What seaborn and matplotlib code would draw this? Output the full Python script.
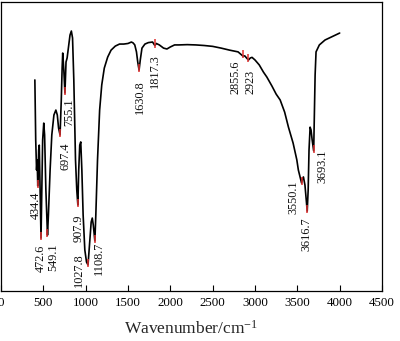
import numpy as np
import pandas as pd
import matplotlib
matplotlib.use("Agg")
import matplotlib.pyplot as plt
import seaborn as sns

# FTIR spectrum: wavenumber (cm^-1) and transmittance (a.u.)
wavenumber = [
    400, 410, 420, 427, 434.4, 445, 452, 462, 472.6, 480, 492, 505, 515, 530,
    549.1, 560, 580, 600, 625, 648, 665, 680, 697.4, 712, 722, 729, 742, 755.1,
    768, 781, 800, 815, 831, 845, 860, 870, 880, 895, 907.9, 918, 930, 942, 955,
    970, 990, 1010, 1027.8, 1045, 1065, 1078, 1090, 1108.7, 1120, 1140, 1165,
    1190, 1220, 1260, 1300, 1350, 1400, 1450, 1500, 1540, 1560, 1580, 1600,
    1615, 1630.8, 1645, 1665, 1700, 1740, 1790, 1817.3, 1835, 1870, 1920, 1960,
    2000, 2050, 2100, 2200, 2300, 2400, 2500, 2600, 2700, 2800, 2855.6, 2880,
    2900, 2923, 2945, 2965, 3000, 3050, 3100, 3140, 3200, 3250, 3297, 3350,
    3395, 3450, 3494, 3512, 3535, 3550.1, 3562, 3572, 3590, 3605, 3616.7, 3628,
    3638, 3651, 3662, 3675, 3693.1, 3700, 3710, 3721, 3760, 3800, 3827, 3900,
    4000,
]
transmittance = [
    72.9, 52.2, 41.8, 45.3, 36.3, 48.7, 50.4, 34.9, 18.3, 31.4, 52.2, 58.0, 53.9, 34.9,
    19.3, 26.3, 41.8, 53.9, 60.8, 62.5, 60.8, 56.3, 53.9, 66.0, 77.0, 82.2, 76.3, 68.4,
    79.1, 80.5, 85.0, 88.4, 89.8, 87.4, 72.9, 59.1, 45.3, 34.9, 29.7, 41.8, 50.4, 51.5, 41.8,
    26.3, 14.2, 10.0, 9.0, 15.9, 23.8, 25.2, 22.8, 17.3, 26.3, 45.3, 62.5,
    71.2, 77.0, 80.8, 83.2, 84.6, 85.3, 85.3, 85.5, 86.0, 85.7, 85.0, 82.6,
    79.1, 76.3, 79.8, 83.9, 85.3, 85.8, 86.0, 84.8, 85.5, 85.0, 83.9, 83.6,
    84.3, 85.0, 85.0, 85.1, 85.0, 84.8, 84.5, 83.9, 83.2, 82.6, 81.2, 81.2,
    80.5, 79.8, 80.5, 80.7, 79.8, 78.1, 75.6, 73.9, 70.8, 68.0, 66.0, 61.8,
    56.6, 51.1, 45.3, 41.8, 39.0, 37.3, 39.0, 39.4, 36.6, 31.4, 27.6, 34.9,
    48.7, 56.6, 55.6, 52.2, 48.4, 59.1, 74.6, 82.6, 85.0, 86.0, 86.7, 87.7,
    89.1,
]

# Assigned bands
peak_positions = [434.4, 472.6, 549.1, 697.4, 755.1, 907.9, 1027.8, 1108.7,
                  1630.8, 1817.3, 2855.6, 2923, 3550.1, 3616.7, 3693.1]
peak_labels = ["434.4", "472.6", "549.1", "697.4", "755.1", "907.9", "1027.8",
               "1108.7", "1630.8", "1817.3", "2855.6", "2923", "3550.1",
               "3616.7", "3693.1"]

# Label placement relative to the band marker (pixels: right, down)
label_offsets = {
    "434.4": (-2.3, 4), "472.6": (-0.6, 5), "549.1": (5.8, 6),
    "697.4": (5.4, 6), "755.1": (4.8, 3), "907.9": (0.8, 7),
    "1027.8": (-9.3, -14), "1108.7": (4.5, -1), "1630.8": (0.5, 8),
    "1817.3": (0, 7), "2855.6": (-7.6, 3), "2923": (1.7, 8),
    "3550.1": (-8.2, -5), "3616.7": (-0.5, 4), "3693.1": (9, -3),
}

sns.set_theme(style="ticks")
plt.rcParams["font.family"] = ["Liberation Serif", "DejaVu Serif"]
plt.rcParams["mathtext.fontset"] = "custom"
plt.rcParams["mathtext.rm"] = "Liberation Serif"
plt.rcParams["mathtext.it"] = "Liberation Serif:italic"

df = pd.DataFrame({"wavenumber": wavenumber, "transmittance": transmittance})

fig = plt.figure(figsize=(4.0, 3.41), dpi=100)
ax = fig.add_axes([0.0025, 0.1466, 0.9525, 0.849])

sns.lineplot(data=df, x="wavenumber", y="transmittance", ax=ax,
             color="black", linewidth=1.2, sort=False)

# Red band markers and rotated labels
peak_T = np.interp(peak_positions, wavenumber, transmittance)
for wn_p, t_p, lab in zip(peak_positions, peak_T, peak_labels):
    ax.plot([wn_p, wn_p], [t_p - 0.7, t_p + 2.1], color="#e03030",
            linewidth=1.1, zorder=5, solid_capstyle="butt")
    dx, dy = label_offsets[lab]
    ax.annotate(lab, xy=(wn_p, t_p - 0.7), xytext=(dx, -dy),
                textcoords="offset pixels", rotation=90,
                ha="center", va="top", fontsize=8.8, color="#111111")

ax.set_xlim(0, 4500)
ax.set_ylim(0, 100)
ax.set_xticks(np.arange(0, 4501, 500))
ax.set_yticks([])
ax.set_xlabel("Wavenumber/cm$^{-1}$", fontsize=12.5, labelpad=8)
ax.set_ylabel("")
ax.tick_params(axis="x", direction="in", length=4, width=0.8,
               labelsize=9.3, pad=4, colors="black")
for side in ["top", "bottom", "left", "right"]:
    ax.spines[side].set_visible(True)
    ax.spines[side].set_color("black")
    ax.spines[side].set_linewidth(0.9)

fig.savefig("out.png", dpi=100)
